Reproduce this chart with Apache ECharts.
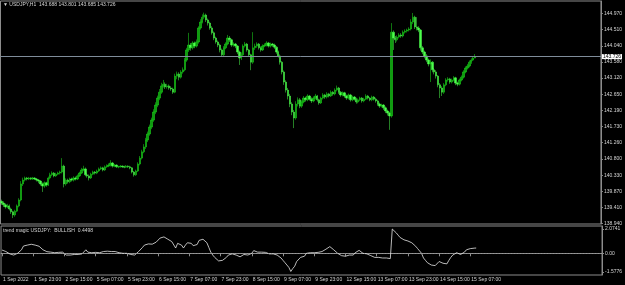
<!DOCTYPE html>
<html><head><meta charset="utf-8">
<script src="https://cdn.jsdelivr.net/npm/echarts@6/dist/echarts.min.js"></script>
<style>html,body{margin:0;padding:0;background:#000;}#c{width:625px;height:285px;}</style>
</head><body><div id="c"></div>
<script>
const symbolName = 'USDJPY,H1';
const indicatorName = 'trend magic USDJPY:';
const indicatorState = 'BULLISH';
const xTickLabels = ['1 Sep 2022','1 Sep 23:00','2 Sep 15:00','5 Sep 07:00','5 Sep 23:00','6 Sep 15:00','7 Sep 07:00','7 Sep 23:00','8 Sep 15:00','9 Sep 07:00','9 Sep 23:00','12 Sep 15:00','13 Sep 07:00','13 Sep 23:00','14 Sep 15:00','15 Sep 07:00'];
const barsPerLabel = 16;
const totalSlots = 308;
const priceTicks = [144.970,144.510,144.040,143.580,143.120,142.650,142.190,141.730,141.260,140.800,140.330,139.870,139.410,138.940];
const indTicks = [2.0741, 0, -1.5776];
const indTickLabels = ['2.0741','0.00','-1.5776'];

const opens = [
139.58,139.53,139.48,139.42,139.45,139.36,139.28,139.19,139.30,139.45,
139.62,140.08,140.19,140.25,140.22,140.25,140.22,140.25,140.22,140.19,
140.16,140.08,140.02,140.11,140.05,140.25,140.34,140.39,140.31,140.36,
140.39,140.42,140.59,140.08,140.19,140.14,140.22,140.19,140.25,140.22,
140.31,140.39,140.48,140.51,140.34,140.31,140.25,140.36,140.42,140.39,
140.45,140.51,140.54,140.48,140.57,140.59,140.62,140.68,140.59,140.62,
140.57,140.57,140.59,140.57,140.56,140.59,140.57,140.54,140.42,140.34,
140.45,140.65,140.82,141.00,141.14,141.34,141.51,141.71,141.91,142.14,
142.34,142.54,142.71,142.89,142.94,142.86,142.89,142.83,142.80,142.71,
143.17,143.23,143.14,143.29,143.35,143.63,143.92,144.06,143.98,144.12,
144.03,144.15,144.55,144.72,144.86,144.92,144.78,144.69,144.55,144.41,
144.26,144.15,144.06,143.92,143.78,143.98,144.09,144.26,144.21,144.06,
144.09,144.03,143.86,143.69,143.78,144.03,144.09,143.92,143.78,143.57,
143.98,144.03,144.09,143.98,143.92,144.03,144.06,144.12,144.03,144.09,
144.06,144.00,143.86,143.75,143.57,143.29,143.00,142.77,142.60,142.37,
142.14,141.97,142.37,142.49,142.31,142.43,142.54,142.49,142.60,142.51,
142.46,142.54,142.60,142.49,142.40,142.54,142.63,142.57,142.66,142.60,
142.71,142.66,142.77,142.83,142.71,142.63,142.69,142.60,142.54,142.63,
142.49,142.57,142.51,142.43,142.49,142.54,142.46,142.51,142.60,142.54,
142.49,142.57,142.51,142.46,142.37,142.31,142.34,142.26,142.17,142.11,
142.03,144.43,144.26,144.21,144.29,144.35,144.32,144.43,144.46,144.49,
144.52,144.72,144.86,144.58,144.55,144.49,143.98,143.86,143.75,143.63,
143.52,143.57,143.35,143.29,143.17,142.92,142.83,142.71,142.92,143.06,
143.09,143.00,143.06,143.12,142.97,142.94,143.06,143.14,143.29,143.40,
143.46,143.57,143.63,143.688];
const highs = [
139.63,139.58,139.52,139.51,139.49,139.40,139.31,139.34,139.49,139.67,
140.16,140.26,140.29,140.28,140.28,140.27,140.28,140.27,140.25,140.22,
140.19,140.12,140.15,140.14,140.29,140.40,140.44,140.42,140.40,140.43,
140.46,140.82,140.63,140.24,140.23,140.26,140.26,140.30,140.29,140.35,
140.43,140.54,140.60,140.55,140.38,140.35,140.40,140.46,140.45,140.49,
140.55,140.58,140.57,140.61,140.64,140.67,140.76,140.71,140.65,140.64,
140.60,140.62,140.61,140.60,140.62,140.61,140.60,140.56,140.45,140.49,
140.70,140.88,141.06,141.22,141.40,141.58,141.78,141.98,142.22,142.42,
142.61,142.80,142.98,143.06,142.99,142.95,142.93,142.88,142.84,143.24,
143.30,143.28,143.34,143.42,143.69,143.98,144.41,144.12,144.17,144.16,
144.22,144.60,144.80,144.94,144.99,144.96,144.82,144.73,144.60,144.45,
144.30,144.19,144.10,143.96,144.03,144.14,144.35,144.32,144.24,144.14,
144.12,144.06,143.90,143.85,144.08,144.15,144.12,143.95,143.81,144.43,
144.10,144.14,144.12,144.02,144.08,144.11,144.17,144.15,144.13,144.12,
144.10,144.03,143.90,143.79,143.60,143.33,143.05,142.83,142.66,142.42,
142.20,142.45,142.56,142.54,142.48,142.60,142.58,142.65,142.63,142.56,
142.59,142.66,142.63,142.52,142.58,142.68,142.66,142.71,142.69,142.76,
142.74,142.82,142.90,142.86,142.74,142.73,142.72,142.64,142.67,142.66,
142.61,142.60,142.55,142.53,142.58,142.57,142.55,142.65,142.63,142.57,
142.61,142.60,142.55,142.49,142.41,142.38,142.37,142.30,142.21,142.15,
144.69,144.48,144.32,144.34,144.40,144.40,144.48,144.51,144.53,144.57,
144.80,144.98,144.90,144.86,144.60,144.52,144.03,143.90,143.80,143.67,
143.65,143.60,143.40,143.34,143.20,142.97,142.88,142.97,143.11,143.14,
143.12,143.10,143.17,143.15,143.01,143.10,143.19,143.34,143.45,143.52,
143.62,143.68,143.72,143.801];
const lows = [
139.48,139.42,139.37,139.38,139.32,139.22,139.10,139.14,139.27,139.41,
139.58,140.02,140.15,140.18,140.19,140.19,140.20,140.19,140.15,140.10,
140.03,139.85,139.97,140.00,140.02,140.21,140.30,140.27,140.28,140.33,
140.35,140.38,139.98,140.03,140.09,140.10,140.15,140.15,140.18,140.19,
140.28,140.36,140.44,140.30,140.26,140.18,140.22,140.33,140.35,140.36,
140.42,140.48,140.44,140.45,140.54,140.56,140.58,140.55,140.56,140.54,
140.53,140.55,140.54,140.53,140.54,140.54,140.50,140.38,140.29,140.31,
140.42,140.61,140.78,140.96,141.08,141.28,141.46,141.65,141.86,142.08,
142.28,142.48,142.66,142.84,142.80,142.81,142.78,142.75,142.66,142.68,
143.08,143.05,143.10,143.24,143.31,143.58,143.86,143.90,143.93,143.97,
143.99,144.10,144.50,144.68,144.80,144.72,144.62,144.50,144.36,144.20,
144.10,144.00,143.85,143.72,143.74,143.94,144.05,144.15,144.01,144.01,
143.97,143.80,143.49,143.63,143.74,143.99,143.87,143.72,143.34,143.52,
143.92,143.98,143.93,143.87,143.89,144.00,144.02,143.99,143.99,144.01,
143.95,143.81,143.70,143.50,143.22,142.92,142.70,142.50,142.28,142.05,
141.68,141.92,142.30,142.25,142.26,142.39,142.44,142.45,142.47,142.40,
142.42,142.50,142.44,142.35,142.37,142.50,142.52,142.53,142.56,142.57,
142.61,142.62,142.73,142.66,142.58,142.59,142.55,142.49,142.50,142.44,
142.45,142.47,142.38,142.39,142.45,142.41,142.42,142.48,142.50,142.45,
142.45,142.47,142.41,142.32,142.26,142.27,142.20,142.11,142.04,141.63,
141.98,143.92,144.12,144.16,144.25,144.27,144.28,144.39,144.42,144.45,
144.48,144.66,144.52,144.48,144.43,143.90,143.80,143.68,143.57,143.45,
143.00,143.28,143.22,143.10,142.85,142.54,142.60,142.66,142.88,143.01,
142.95,142.96,143.02,142.91,142.88,142.90,143.02,143.10,143.25,143.36,
143.42,143.52,143.60,143.685];
const closes = [
139.53,139.48,139.42,139.45,139.36,139.28,139.19,139.30,139.45,139.62,
140.08,140.19,140.25,140.22,140.25,140.22,140.25,140.22,140.19,140.16,
140.08,140.02,140.11,140.05,140.25,140.34,140.39,140.31,140.36,140.39,
140.42,140.59,140.08,140.19,140.14,140.22,140.19,140.25,140.22,140.31,
140.39,140.48,140.51,140.34,140.31,140.25,140.36,140.42,140.39,140.45,
140.51,140.54,140.48,140.57,140.59,140.62,140.68,140.59,140.62,140.57,
140.57,140.59,140.57,140.56,140.59,140.57,140.54,140.42,140.34,140.45,
140.65,140.82,141.00,141.14,141.34,141.51,141.71,141.91,142.14,142.34,
142.54,142.71,142.89,142.94,142.86,142.89,142.83,142.80,142.71,143.17,
143.23,143.14,143.29,143.35,143.63,143.92,144.06,143.98,144.12,144.03,
144.15,144.55,144.72,144.86,144.92,144.78,144.69,144.55,144.41,144.26,
144.15,144.06,143.92,143.78,143.98,144.09,144.26,144.21,144.06,144.09,
144.03,143.86,143.69,143.78,144.03,144.09,143.92,143.78,143.57,143.98,
144.03,144.09,143.98,143.92,144.03,144.06,144.12,144.03,144.09,144.06,
144.00,143.86,143.75,143.57,143.29,143.00,142.77,142.60,142.37,142.14,
141.97,142.37,142.49,142.31,142.43,142.54,142.49,142.60,142.51,142.46,
142.54,142.60,142.49,142.40,142.54,142.63,142.57,142.66,142.60,142.71,
142.66,142.77,142.83,142.71,142.63,142.69,142.60,142.54,142.63,142.49,
142.57,142.51,142.43,142.49,142.54,142.46,142.51,142.60,142.54,142.49,
142.57,142.51,142.46,142.37,142.31,142.34,142.26,142.17,142.11,142.03,
144.43,144.26,144.21,144.29,144.35,144.32,144.43,144.46,144.49,144.52,
144.72,144.86,144.58,144.55,144.49,143.98,143.86,143.75,143.63,143.52,
143.57,143.35,143.29,143.17,142.92,142.83,142.71,142.92,143.06,143.09,
143.00,143.06,143.12,142.97,142.94,143.06,143.14,143.29,143.40,143.46,
143.57,143.63,143.688,143.726];
const trendMagic = [
0.28,0.25,0.15,0.05,-0.05,-0.1,-0.15,-0.1,0.0,-0.05,
0.3,0.62,0.65,0.7,0.72,0.77,0.75,0.7,0.68,0.6,
0.5,0.3,0.2,0.14,0.12,0.1,0.15,0.05,0.1,0.08,
0.0,0.1,-0.05,-0.15,-0.2,-0.15,-0.05,-0.1,-0.05,-0.1,
0.0,-0.05,0.05,0.3,0.1,-0.05,0.05,0.0,0.08,0.0,
0.05,0.1,0.15,0.12,0.18,0.12,0.15,0.1,0.15,0.12,
0.05,0.02,0.0,0.0,0.0,-0.02,-0.1,-0.2,-0.15,0.0,
0.15,0.3,0.5,0.7,0.72,0.8,0.85,0.78,0.85,0.95,
1.1,1.3,1.42,1.4,1.3,1.2,1.1,1.0,0.9,0.45,
0.85,0.9,0.7,0.45,0.7,0.9,0.95,0.85,0.65,0.7,
0.75,1.1,1.2,1.2,1.15,0.9,0.5,0.1,-0.15,-0.35,
-0.5,-0.65,-0.7,-0.6,-0.5,-0.35,-0.15,0.0,-0.05,-0.1,
-0.15,-0.25,-0.3,-0.2,-0.1,-0.05,-0.15,-0.2,0.0,0.23,
0.15,0.1,0.05,0.1,0.12,0.08,0.0,-0.05,-0.1,-0.05,
-0.1,-0.15,-0.25,-0.4,-0.6,-0.8,-1.0,-1.2,-1.55,-1.3,
-1.1,-0.7,-0.55,-0.35,-0.3,-0.25,0.0,0.1,0.05,0.1,
0.05,0.12,0.08,0.0,0.15,0.25,0.35,0.45,0.57,0.45,
0.3,0.15,0.0,-0.1,-0.2,-0.15,-0.25,-0.2,-0.15,-0.25,
-0.15,0.05,0.2,0.25,0.15,0.0,-0.1,-0.05,-0.15,-0.2,
-0.3,-0.35,-0.4,-0.35,-0.45,-0.4,-0.45,-0.4,-0.42,-0.45,
2.07,1.9,1.75,1.55,1.35,1.2,1.15,1.1,1.05,1.0,
0.9,0.8,0.6,0.4,0.2,0.0,-0.4,-0.6,-0.8,-0.95,
-1.0,-0.95,-1.05,-1.0,-0.7,-0.6,-0.85,-1.0,-0.9,-0.6,
-0.35,-0.15,0.0,0.05,-0.05,-0.1,-0.05,0.1,0.3,0.35,
0.4,0.42,0.44,0.4498];

const FONT = 'Liberation Sans';
const TXT = '#d4d4d4';
const AX = '#8c8c8c';
const UP_FILL = '#0f9a0f', UP_LINE = '#1ee81e';
const DOWN_FILL = '#4cff4c', DOWN_LINE = '#4cff4c';
const last = closes.length - 1;
const slots = Array.from({length: totalSlots}, (_, i) => String(i));
const candleData = opens.map((o, i) => {
  const up = closes[i] >= o;
  return {value: [o, closes[i], lows[i], highs[i]],
          itemStyle: {color: up ? UP_FILL : DOWN_FILL, color0: up ? UP_FILL : DOWN_FILL,
                      borderColor: up ? UP_LINE : DOWN_LINE, borderColor0: up ? UP_LINE : DOWN_LINE,
                      borderColorDoji: up ? UP_LINE : DOWN_LINE}};
});
const showTick = (idx) => idx % barsPerLabel === 0 && idx / barsPerLabel < xTickLabels.length;

const chart = echarts.init(document.getElementById('c'), null, {renderer: 'canvas'});
chart.setOption({
  backgroundColor: '#000000',
  animation: false,
  title: [
    {text: '\u25BC ' + symbolName + '  ' + opens[last].toFixed(3) + ' ' + highs[last].toFixed(3) + ' ' + lows[last].toFixed(3) + ' ' + closes[last].toFixed(3),
     left: 3, top: 2, padding: 0, textStyle: {color: TXT, fontSize: 5, fontWeight: 'normal', fontFamily: FONT}},
    {text: indicatorName + '  ' + indicatorState + '  ' + trendMagic[last].toFixed(4),
     left: 3, top: 228, padding: 0, textStyle: {color: TXT, fontSize: 5, fontWeight: 'normal', fontFamily: FONT}}
  ],
  grid: [
    {left: 0.5, right: 21.4, top: 1, height: 223, show: true, borderColor: AX, borderWidth: 1, backgroundColor: 'transparent'},
    {left: 0.5, right: 21.4, top: 226, height: 49, show: true, borderColor: AX, borderWidth: 1, backgroundColor: 'transparent'}
  ],
  xAxis: [
    {type: 'category', gridIndex: 0, data: slots, boundaryGap: true,
     axisLine: {show: false}, axisTick: {show: false}, axisLabel: {show: false}, splitLine: {show: false}},
    {type: 'category', gridIndex: 1, data: slots, boundaryGap: true,
     axisLine: {show: true, lineStyle: {color: AX}},
     axisTick: {show: true, alignWithLabel: true, length: 3, interval: (idx) => showTick(idx), lineStyle: {color: AX}},
     axisLabel: {show: true, interval: (idx) => showTick(idx), align: 'left', margin: 2, padding: [0,0,0,1],
       color: TXT, fontSize: 5, fontFamily: FONT,
       formatter: (v, idx) => xTickLabels[Math.round(idx / barsPerLabel)] || ''},
     splitLine: {show: false}}
  ],
  yAxis: [
    {type: 'value', gridIndex: 0, position: 'right', min: 138.931, max: 145.323, scale: true,
     axisLine: {show: true, lineStyle: {color: AX}},
     axisTick: {show: true, length: 2, customValues: priceTicks, lineStyle: {color: AX}},
     axisLabel: {show: true, customValues: priceTicks, margin: 3, color: TXT, fontSize: 5, fontFamily: FONT,
       formatter: (v) => v.toFixed(3)},
     splitLine: {show: false}},
    {type: 'value', gridIndex: 1, position: 'right', min: -1.852, max: 2.330,
     axisLine: {show: true, lineStyle: {color: AX}},
     axisTick: {show: true, length: 2, customValues: indTicks, lineStyle: {color: AX}},
     axisLabel: {show: true, customValues: indTicks, margin: 3, color: TXT, fontSize: 5, fontFamily: FONT,
       formatter: (v) => { const k = indTicks.findIndex(t => Math.abs(t - v) < 1e-6); return k >= 0 ? indTickLabels[k] : ''; }},
     splitLine: {show: false}}
  ],
  series: [
    {type: 'candlestick', xAxisIndex: 0, yAxisIndex: 0, data: candleData, barWidth: 1.9, large: false,
     itemStyle: {color: UP_FILL, color0: DOWN_FILL, borderColor: UP_LINE, borderColor0: DOWN_LINE, borderColorDoji: UP_LINE, borderWidth: 0.5},
     emphasis: {disabled: true},
     markLine: {silent: true, symbol: 'none', animation: false,
       lineStyle: {color: '#7f8c9a', width: 1, type: 'solid'},
       label: {show: true, position: 'end', distance: 1, formatter: () => closes[last].toFixed(3),
         backgroundColor: '#ffffff', color: '#000000', fontSize: 5, fontFamily: FONT, padding: [0,1,0,1]},
       data: [{yAxis: closes[last]}]}},
    {type: 'line', xAxisIndex: 1, yAxisIndex: 1, data: trendMagic, symbol: 'none', smooth: false,
     lineStyle: {color: '#e8e8e8', width: 0.8},
     markLine: {silent: true, symbol: 'none', animation: false,
       lineStyle: {color: '#9a9a9a', width: 1, type: [1, 2]}, label: {show: false},
       data: [{yAxis: 0}]}}
  ]
});
</script></body></html>
